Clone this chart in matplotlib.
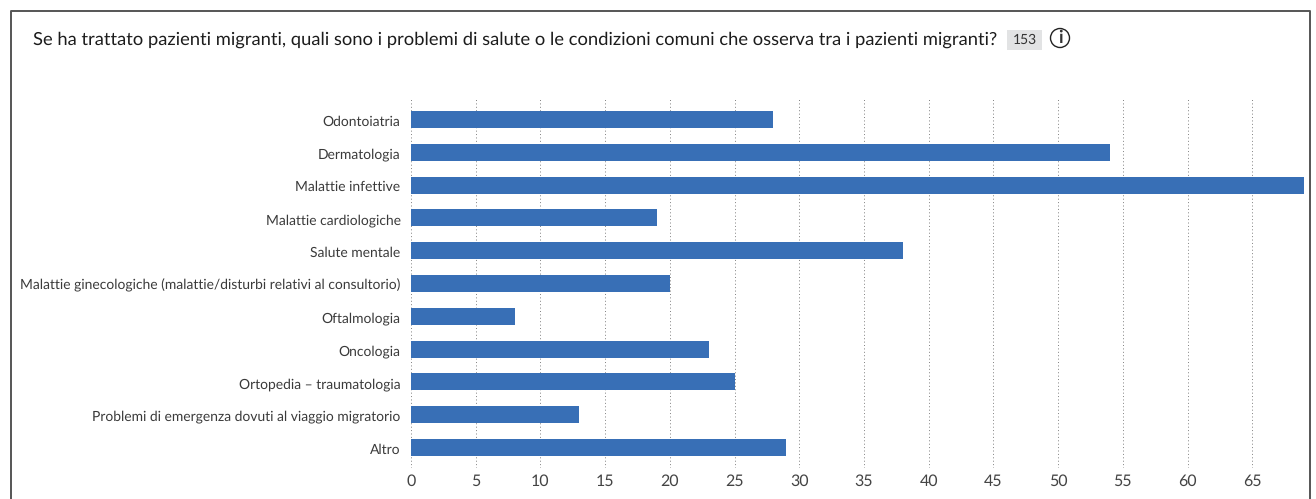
import matplotlib
matplotlib.use("Agg")
import matplotlib.pyplot as plt
from matplotlib.patches import Circle, Rectangle
from matplotlib.transforms import ScaledTranslation

categories = [
    "Odontoiatria",
    "Dermatologia",
    "Malattie infettive",
    "Malattie cardiologiche",
    "Salute mentale",
    "Malattie ginecologiche (malattie/disturbi relativi al consultorio)",
    "Oftalmologia",
    "Oncologia",
    "Ortopedia – traumatologia",
    "Problemi di emergenza dovuti al viaggio migratorio",
    "Altro",
]
values = [28, 54, 69, 19, 38, 20, 8, 23, 25, 13, 29]
x_ticks = list(range(0, 70, 5))
title = "Se ha trattato pazienti migranti, quali sono i problemi di salute o le condizioni comuni che osserva tra i pazienti migranti?"
n_answers = "153"

W, H = 1316, 499
plt.rcParams["font.family"] = ["Lato", "DejaVu Sans"]
plt.rcParams["text.hinting"] = "no_hinting"

fig = plt.figure(figsize=(W / 100, H / 100), dpi=100)

# overlay in pixel coordinates for frame and header
bg = fig.add_axes([0, 0, 1, 1])
bg.set_xlim(0, W)
bg.set_ylim(H, 0)
bg.axis("off")
bg.plot([10.5, 10.5, 1310, 1310], [499, 11, 11, 499], color="#555555", lw=1.4)
bg.text(33, 39.5, title, fontsize=13.28, color="#1c1c1c", va="center", ha="left")
bg.add_patch(Rectangle((1007, 30), 35, 20, color="#e2e3e4", lw=0))
bg.text(1024.5, 40, n_answers, fontsize=10, color="#333333", va="center", ha="center")
bg.add_patch(Circle((1060, 38), 9.5, fill=False, ec="#222222", lw=1))
bg.text(1060, 38, "i", fontsize=13, fontweight="bold", color="#333333", va="center", ha="center")

# plot area: x=0 at 411 px, 12.95 px per unit, gridlines from y=98 to y=468
left, right, top, bottom = 411, 1304, 98, 468
ax = fig.add_axes([left / W, 1 - bottom / H, (right - left) / W, (bottom - top) / H])
ax.patch.set_alpha(0)
pos = list(range(len(categories)))
ax.barh(pos, values, height=0.52, color="#386fb6", zorder=3)
ax.set_xlim(0, 69)
ax.set_ylim(len(categories) - 0.37, -0.66)
ax.set_yticks(pos)
ax.set_yticklabels(categories, fontsize=10.0, color="#3a3a3a")
ax.set_xticks(x_ticks)
ax.set_xticklabels([str(t) for t in x_ticks], fontsize=11.5, color="#444444")
ax.tick_params(axis="both", length=0)
ax.tick_params(axis="y", pad=7.5)
ax.tick_params(axis="x", pad=4.5)
ax.grid(axis="x", linestyle=(0, (1, 2.5)), color="#808080", lw=0.7, zorder=0)
for spine in ax.spines.values():
    spine.set_visible(False)

# category labels sit a little below the bar centres
shift = ScaledTranslation(0, -1 / 100, fig.dpi_scale_trans)
for lab in ax.get_yticklabels():
    lab.set_transform(lab.get_transform() + shift)

fig.savefig("out.png", dpi=100)
